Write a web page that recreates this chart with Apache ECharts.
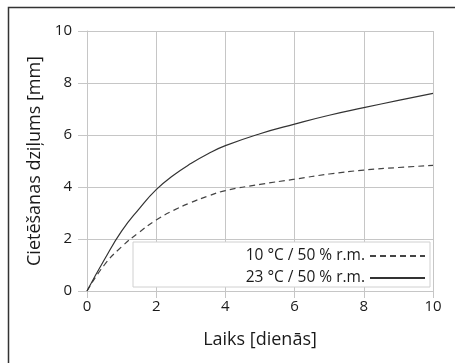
<!DOCTYPE html>
<html>
<head>
<meta charset="utf-8">
<script src="https://cdn.jsdelivr.net/npm/echarts@6/dist/echarts.min.js"></script>
<style>
  html, body { margin: 0; padding: 0; background: #fff; }
  #chart { width: 455px; height: 363px; }
</style>
</head>
<body>
<div id="chart"></div>
<script>
// time in days
const days = [0, 0.5, 1, 1.5, 2, 2.5, 3, 3.5, 4, 5, 6, 7, 8, 9, 10];
// carbonation depth, mm
const depth10C = [0, 1.0, 1.7, 2.25, 2.73, 3.1, 3.4, 3.65, 3.86, 4.1, 4.3, 4.5, 4.65, 4.75, 4.83];
const depth23C = [0, 1.2, 2.3, 3.15, 3.9, 4.45, 4.9, 5.28, 5.59, 6.05, 6.42, 6.76, 7.05, 7.33, 7.6];
const seriesNames = ["10 °C / 50 % r.m.", "23 °C / 50 % r.m."];

const gridColor = "#c6c6c6";
const textColor = "#1a1a1a";
const font = "'Open Sans', 'Noto Sans', sans-serif";

const toPairs = (ys) => days.map((d, i) => [d, ys[i]]);

const chart = echarts.init(document.getElementById("chart"));

// helper axis that only shows outward ticks (grid lines stick out of the plot)
const tickOnly = {
    axisLine: { show: false },
    axisLabel: { show: false },
    splitLine: { show: false },
    axisTick: { show: true, inside: false, length: 9, lineStyle: { color: gridColor } },
};

const option = {
    animation: false,
    backgroundColor: "#fff",
    grid: { left: 87, right: 22, top: 31, bottom: 72 },
    xAxis: [
        {
            type: "value",
            min: 0,
            max: 10,
            interval: 2,
            name: "Laiks [dienās]",
            nameLocation: "middle",
            nameGap: 40,
            nameTextStyle: { fontSize: 18, color: textColor, fontFamily: font },
            axisLine: { show: true, lineStyle: { color: gridColor } },
            axisTick: { show: true, inside: false, length: 7, lineStyle: { color: gridColor } },
            axisLabel: { fontSize: 15, color: textColor, fontFamily: font, margin: 8 },
            splitLine: { show: true, lineStyle: { color: gridColor } },
        },
        Object.assign({ type: "value", position: "top", min: 0, max: 10, interval: 2 }, tickOnly),
    ],
    yAxis: [
        {
            type: "value",
            min: 0,
            max: 10,
            interval: 2,
            name: "Cietēšanas dziļums [mm]",
            nameLocation: "middle",
            nameGap: 40,
            nameTextStyle: { fontSize: 18, color: textColor, fontFamily: font },
            axisLine: { show: true, lineStyle: { color: gridColor } },
            axisTick: { show: true, inside: false, length: 9, lineStyle: { color: gridColor } },
            axisLabel: { fontSize: 15, color: textColor, fontFamily: font, margin: 15 },
            splitLine: { show: true, lineStyle: { color: gridColor } },
        },
        Object.assign({ type: "value", position: "right", min: 0, max: 10, interval: 2 }, tickOnly),
    ],
    legend: {
        orient: "vertical",
        right: 29,
        top: 248,
        align: "right",
        itemWidth: 55,
        itemHeight: 10,
        itemGap: 6,
        padding: 0,
        z: 5,
        itemStyle: { opacity: 0 },
        textStyle: { fontSize: 15.5, color: textColor, fontFamily: font },
        data: seriesNames,
    },
    graphic: [
        {
            type: "rect",
            z: 1,
            shape: { x: 133, y: 242, width: 297, height: 45 },
            style: { fill: "#fff", stroke: "#d0d0d0", lineWidth: 1 },
        },
        {
            type: "rect",
            z: 1,
            shape: { x: 8.5, y: 7.5, width: 470, height: 380 },
            style: { fill: "none", stroke: "#333", lineWidth: 1.5 },
        },
    ],
    series: [
        {
            name: seriesNames[0],
            type: "line",
            smooth: true,
            symbol: "none",
            data: toPairs(depth10C),
            lineStyle: { color: "#444", width: 1.2, type: [6, 4] },
            itemStyle: { color: "#444" },
        },
        {
            name: seriesNames[1],
            type: "line",
            smooth: true,
            symbol: "none",
            data: toPairs(depth23C),
            lineStyle: { color: "#333", width: 1.2 },
            itemStyle: { color: "#333" },
        },
    ],
};

chart.setOption(option);
</script>
</body>
</html>
